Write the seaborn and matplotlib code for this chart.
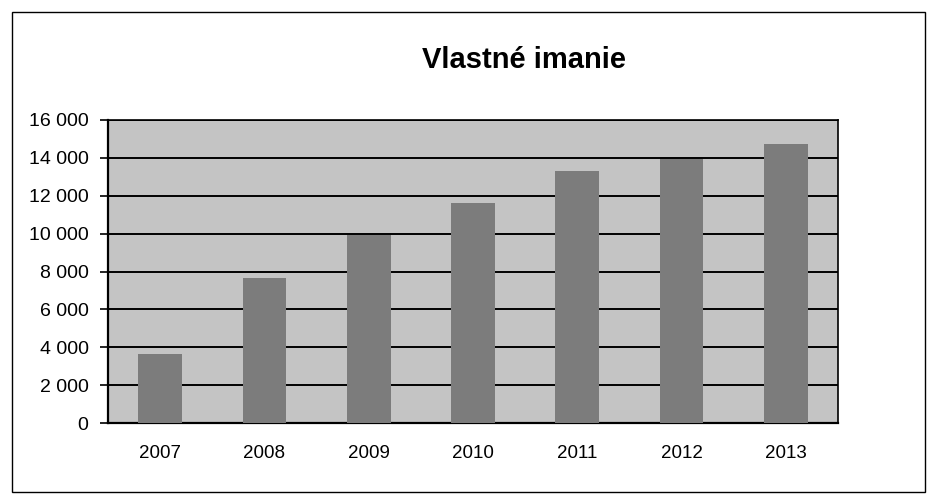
import matplotlib
matplotlib.use("Agg")
import matplotlib.pyplot as plt
import matplotlib.ticker as mticker
from matplotlib.patches import Rectangle
import seaborn as sns
import pandas as pd

years = ["2007", "2008", "2009", "2010", "2011", "2012", "2013"]
values = [3650, 7650, 9950, 11600, 13300, 13950, 14750]
title = "Vlastné imanie"
y_ticks = [0, 2000, 4000, 6000, 8000, 10000, 12000, 14000, 16000]

sns.set_style("white")
plt.rcParams["font.family"] = ["Liberation Sans", "DejaVu Sans"]

df = pd.DataFrame({"rok": years, "hodnota": values})

fig = plt.figure(figsize=(9.3, 5.04), dpi=100)
fig.patch.set_facecolor("white")
ax = fig.add_axes([108/930, 1-423/504, (838-108)/930, (423-120)/504])
ax.set_facecolor("#c4c4c4")

sns.barplot(data=df, x="rok", y="hodnota", color="#7c7c7c", width=0.42,
            saturation=1, ax=ax, zorder=3, edgecolor="none")

ax.set_ylim(0, 16000)
ax.set_xlim(-0.5, len(years) - 0.5)
ax.set_yticks(y_ticks)
ax.yaxis.set_major_formatter(mticker.FuncFormatter(lambda v, p: f"{int(v):,}".replace(",", " ")))
ax.grid(axis="y", color="black", linewidth=1.4, zorder=1)
ax.set_axisbelow(True)
ax.set_xlabel("")
ax.set_ylabel("")

ax.set_xticks(range(len(years)))
ax.set_xticklabels(years)
ax.set_xticks([i - 0.5 for i in range(len(years) + 1)], minor=True)
ax.tick_params(axis="x", which="major", length=0, pad=16, labelsize=13.5, colors="black")
ax.tick_params(axis="x", which="minor", length=6, width=1.2, color="black", direction="out")
ax.tick_params(axis="y", which="major", length=6, width=1.2, color="black", direction="out",
               pad=8, labelsize=14, labelcolor="black", left=True)

for s in ax.spines.values():
    s.set_visible(True)
    s.set_color("black")
    s.set_linewidth(1.2)
ax.spines["left"].set_linewidth(1.6)
ax.spines["bottom"].set_linewidth(1.6)

fig.text(524/930, 1-60/504, title, ha="center", va="center",
         fontsize=21, fontweight="bold", color="black")

fig.patches.append(Rectangle((12/930, 12/504), (925-12)/930, (492-12)/504,
                             transform=fig.transFigure, fill=False,
                             edgecolor="black", linewidth=1.0))

fig.savefig("out.png", dpi=100, facecolor="white")
